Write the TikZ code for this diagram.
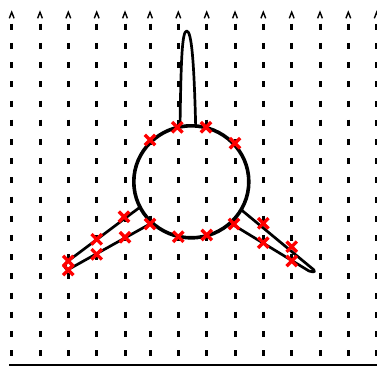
\documentclass[tikz,border=0pt]{standalone}
\begin{document}
\begin{tikzpicture}[x=1pt,y=-1pt,
  flowdash/.style={line width=3pt},
  chev/.style={line width=1.4pt},
  body/.style={line width=2.7pt,line join=round},
  rim/.style={line width=3.6pt},
  redx/.style={red,line width=3.3pt}]
\useasboundingbox (0,0) rectangle (377,367);
\begin{scope}
\clip (0,0) rectangle (377,367);
\foreach \x in {11.7,40,68.3,96.7,125,150,178.3,206.7,235,263.3,291.7,320,348.3,376.7} {
  \foreach \k in {0,...,17} {
    \draw[flowdash] (\x,{26.7+19.2*\k-3}) -- (\x,{26.7+19.2*\k+3});
  }
  \draw[chev] (\x-2.4,18.3) -- (\x,12.2) -- (\x+2.4,18.3);
}
\end{scope}
\draw[line width=2pt] (9,365) -- (377,365);
% body
\draw[rim] (191.3,181.8) ellipse [x radius=57.5, y radius=56];
\draw[body] (180,127) .. controls (181,60) and (182,31) .. (186.7,31)
  .. controls (191.5,31) and (194,60) .. (195.7,127);
\draw[body] (139.5,207.5) -- (69,260.3) .. controls (62.6,265.1) and (64,271.9) .. (71,268) -- (151,223.4);
\draw[body] (241.5,210) -- (311,267.5) .. controls (316.5,271.5) and (315,273) .. (309,271) -- (231,223.5);
% markers
\foreach \p in {(150,140),(177.3,127.3),(206,127.3),(235,143.3),
  (150,224),(178.3,236.7),(206.7,235),(234,224),
  (124,216.7),(96.7,239.3),(125,237.3),(96.7,254.3),(68.3,261),(68.3,270),
  (263.3,223.3),(263.3,242.7),(291.7,246.7),(291.7,261)} {
  \draw[redx] \p +(-5.2,-5.2) -- +(5.2,5.2) \p +(-5.2,5.2) -- +(5.2,-5.2);
}
\end{tikzpicture}
\end{document}
